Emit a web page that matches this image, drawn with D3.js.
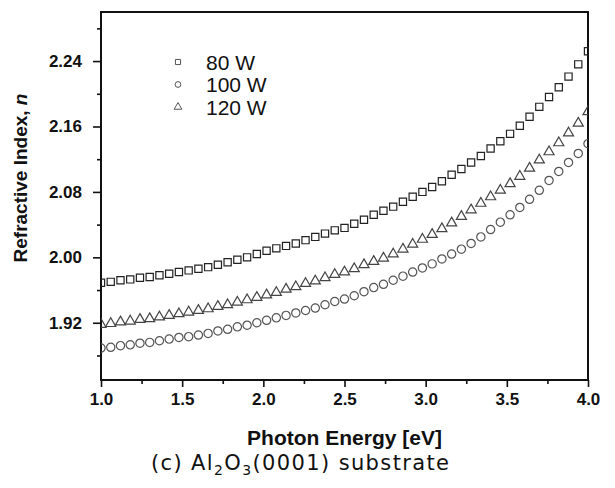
<!DOCTYPE html>
<html>
<head>
<meta charset="utf-8">
<script src="https://cdn.jsdelivr.net/npm/d3@7"></script>
<style>
body { margin: 0; background: #fff; }
text { font-family: "Liberation Sans", Arial, Helvetica, sans-serif; }
</style>
</head>
<body>
<svg id="chart"></svg>
<script>
const energy = [1.00, 1.06, 1.12, 1.18, 1.24, 1.30, 1.36, 1.42, 1.48, 1.54,
  1.60, 1.66, 1.72, 1.78, 1.84, 1.90, 1.96, 2.02, 2.08, 2.14,
  2.20, 2.26, 2.32, 2.38, 2.44, 2.50, 2.56, 2.62, 2.68, 2.74,
  2.80, 2.86, 2.92, 2.98, 3.04, 3.10, 3.16, 3.22, 3.28, 3.34,
  3.40, 3.46, 3.52, 3.58, 3.64, 3.70, 3.76, 3.82, 3.88, 3.94, 4.00];

const n80 = [1.969, 1.970, 1.972, 1.973, 1.975, 1.976, 1.978, 1.980, 1.982, 1.984,
  1.986, 1.988, 1.991, 1.994, 1.997, 2.000, 2.004, 2.008, 2.011, 2.014,
  2.017, 2.021, 2.025, 2.029, 2.033, 2.036, 2.041, 2.046, 2.052, 2.057,
  2.062, 2.068, 2.074, 2.080, 2.086, 2.093, 2.101, 2.108, 2.116, 2.124,
  2.133, 2.142, 2.151, 2.161, 2.172, 2.184, 2.196, 2.208, 2.221, 2.236, 2.252];

const n100 = [1.889, 1.890, 1.892, 1.893, 1.895, 1.896, 1.898, 1.900, 1.902, 1.903,
  1.905, 1.907, 1.910, 1.912, 1.915, 1.917, 1.920, 1.923, 1.926, 1.929,
  1.932, 1.935, 1.938, 1.942, 1.946, 1.949, 1.953, 1.958, 1.963, 1.967,
  1.972, 1.977, 1.982, 1.987, 1.992, 1.998, 2.004, 2.010, 2.017, 2.025,
  2.034, 2.043, 2.052, 2.061, 2.071, 2.082, 2.094, 2.105, 2.116, 2.127, 2.139];

const n120 = [1.918, 1.919, 1.921, 1.922, 1.924, 1.925, 1.927, 1.929, 1.931, 1.933,
  1.935, 1.937, 1.940, 1.942, 1.945, 1.948, 1.951, 1.954, 1.957, 1.961,
  1.964, 1.968, 1.971, 1.975, 1.979, 1.982, 1.986, 1.991, 1.995, 1.999,
  2.004, 2.010, 2.016, 2.022, 2.028, 2.035, 2.042, 2.050, 2.058, 2.066,
  2.074, 2.082, 2.090, 2.099, 2.109, 2.119, 2.129, 2.140, 2.152, 2.164, 2.178];

const seriesNames = ["80 W", "100 W", "120 W"];
const seriesValues = [n80, n100, n120];
const seriesShapes = [d3.symbolSquare, d3.symbolCircle, d3.symbolTriangle];

const xMajor = [1.0, 1.5, 2.0, 2.5, 3.0, 3.5, 4.0];
const xMinor = [1.25, 1.75, 2.25, 2.75, 3.25, 3.75];
const yMajor = [1.92, 2.00, 2.08, 2.16, 2.24];
const yMinor = [1.88, 1.96, 2.04, 2.12, 2.20, 2.28];

let width = 615;
let height = 488;

const svg = d3.select("#chart")
.attr("width", width)
.attr("height", height);

const x = d3.scaleLinear()
.domain([1.0, 4.0])
.range([101, 588]);

const y = d3.scaleLinear()
.domain([1.85, 2.30])
.range([380, 12]);

svg.append("clipPath")
.attr("id", "plot-clip")
.append("rect")
.attr("x", x(1.0))
.attr("y", y(2.30))
.attr("width", x(4.0) - x(1.0))
.attr("height", y(1.85) - y(2.30));

// ticks
const styleAxis = g => {
    g.select(".domain").remove();
    g.selectAll("line").attr("stroke", "#111").attr("stroke-width", 1.6);
    g.selectAll("text")
    .attr("fill", "#111")
    .style("font-size", "17px")
    .style("font-weight", "bold");
};

svg.append("g")
.attr("transform", `translate(0,${y(1.85)})`)
.call(d3.axisBottom(x).tickValues(xMajor).tickSize(7).tickPadding(6).tickFormat(d3.format(".1f")))
.call(styleAxis);

svg.append("g")
.attr("transform", `translate(0,${y(1.85)})`)
.call(d3.axisBottom(x).tickValues(xMinor).tickSize(4).tickFormat(""))
.call(styleAxis);

svg.append("g")
.attr("transform", `translate(${x(1.0)},0)`)
.call(d3.axisLeft(y).tickValues(yMajor).tickSize(8).tickPadding(11).tickFormat(d3.format(".2f")))
.call(styleAxis);

svg.append("g")
.attr("transform", `translate(${x(1.0)},0)`)
.call(d3.axisLeft(y).tickValues(yMinor).tickSize(4).tickFormat(""))
.call(styleAxis);

svg.append("rect")
.attr("x", x(1.0))
.attr("y", y(2.30))
.attr("width", x(4.0) - x(1.0))
.attr("height", y(1.85) - y(2.30))
.attr("fill", "none")
.attr("stroke", "#111")
.attr("stroke-width", 2);

// markers
const markerSize = [52, 54, 44];
const markerStroke = ["#222", "#555", "#444"];

const plot = svg.append("g").attr("clip-path", "url(#plot-clip)");

seriesValues.forEach((vals, s) => {
    let sym = d3.symbol().type(seriesShapes[s]).size(markerSize[s]);
    plot.append("g")
    .selectAll("path")
    .data(vals)
    .join("path")
    .attr("d", sym)
    .attr("transform", (d, i) => `translate(${x(energy[i])},${y(d)})`)
    .attr("fill", "none")
    .attr("stroke", markerStroke[s])
    .attr("stroke-width", 1.2);
});

// legend
const legend = svg.append("g").attr("transform", "translate(178,62)");

seriesNames.forEach((name, s) => {
    let row = legend.append("g").attr("transform", `translate(0,${s * 22.5})`);
    row.append("path")
    .attr("d", d3.symbol().type(seriesShapes[s]).size(26)())
    .attr("fill", "none")
    .attr("stroke", "#555")
    .attr("stroke-width", 1);
    row.append("text")
    .attr("x", 28)
    .attr("y", 0)
    .attr("dy", "0.36em")
    .style("font-size", "21px")
    .attr("fill", "#111")
    .text(name);
});

// axis titles
svg.append("text")
.attr("x", (x(1.0) + x(4.0)) / 2)
.attr("y", 445)
.attr("text-anchor", "middle")
.style("font-size", "21px")
.style("font-weight", "bold")
.attr("fill", "#111")
.text("Photon Energy [eV]");

const yTitle = svg.append("text")
.attr("transform", "translate(27,178) rotate(-90)")
.attr("text-anchor", "middle")
.style("font-size", "19px")
.style("font-weight", "bold")
.attr("fill", "#111");

yTitle.append("tspan").text("Refractive Index, ");
yTitle.append("tspan").style("font-style", "italic").text("n");

// caption
const caption = svg.append("text")
.attr("x", 151)
.attr("y", 470)
.attr("textLength", 298)
.attr("lengthAdjust", "spacing")
.style("font-size", "21px")
.style("font-family", "'DejaVu Sans', sans-serif")
.attr("fill", "#111");

caption.append("tspan").text("(c)  Al");
caption.append("tspan").attr("dy", 5).style("font-size", "14px").text("2");
caption.append("tspan").attr("dy", -5).text("O");
caption.append("tspan").attr("dy", 5).style("font-size", "14px").text("3");
caption.append("tspan").attr("dy", -5).text("(0001)  substrate");
</script>
</body>
</html>
